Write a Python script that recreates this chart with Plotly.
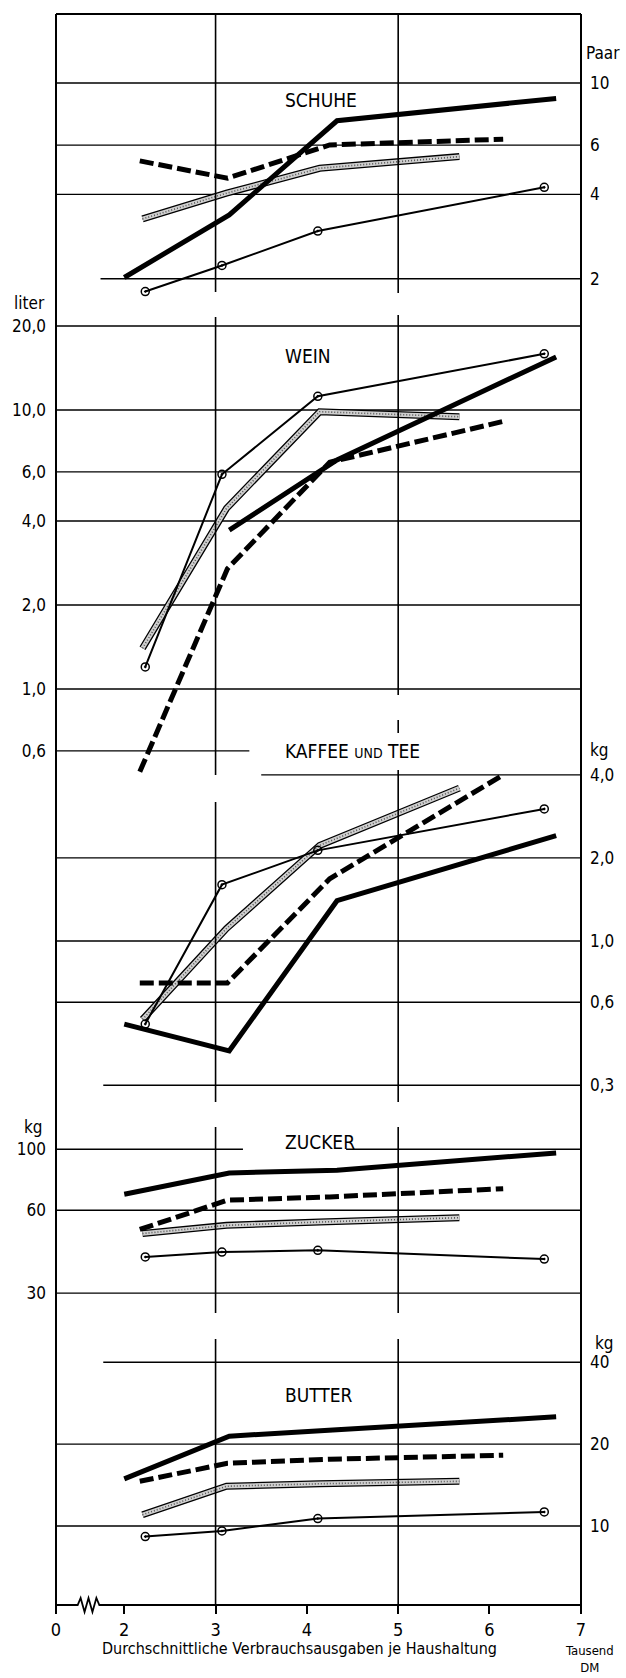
import math
import plotly.graph_objects as go

# ---------------- data ----------------
# x positions (average consumption expenditure per household, thousand DM)
X_THICK = [2.0, 3.15, 4.33, 6.73]
X_DASH = [2.17, 3.13, 4.25, 6.15]
X_HATCH = [2.2, 3.12, 4.14, 5.67]
X_CIRCLE = [2.23, 3.07, 4.12, 6.6]

X_TICKS = [2, 3, 4, 5, 6, 7]
X_TICKTEXT = ["2", "3", "4", "5", "6", "7"]

# SCHUHE (Paar)
SCHUHE_THICK = [2.02, 3.38, 7.33, 8.81]
SCHUHE_DASH = [5.27, 4.57, 6.01, 6.30]
SCHUHE_HATCH = [3.27, 4.04, 4.96, 5.46]
SCHUHE_CIRCLE = [1.80, 2.23, 2.96, 4.24]
SCHUHE_TICKS = [10, 6, 4, 2]
SCHUHE_TICKTEXT = ["10", "6", "4", "2"]

# WEIN (Liter)
WEIN_THICK = [None, 3.71, 6.62, 15.5]
WEIN_DASH = [0.505, 2.7, 6.5, 9.1]
WEIN_HATCH = [1.40, 4.44, 9.86, 9.46]
WEIN_CIRCLE = [1.20, 5.88, 11.2, 15.9]
WEIN_TICKS = [20, 10, 6, 4, 2, 1, 0.6]
WEIN_TICKTEXT = ["20,0", "10,0", "6,0", "4,0", "2,0", "1,0", "0,6"]

# KAFFEE UND TEE (kg)
KAFFEE_THICK = [0.50, 0.40, 1.40, 2.41]
KAFFEE_DASH = [0.705, 0.705, 1.68, 4.0]
KAFFEE_HATCH = [0.52, 1.11, 2.22, 3.58]
KAFFEE_CIRCLE = [0.50, 1.60, 2.13, 3.01]
KAFFEE_TICKS = [4, 2, 1, 0.6, 0.3]
KAFFEE_TICKTEXT = ["4,0", "2,0", "1,0", "0,6", "0,3"]

# ZUCKER (kg)
ZUCKER_THICK = [68.6, 82.0, 83.9, 97.0]
ZUCKER_DASH = [51.1, 65.3, 67.1, 71.9]
ZUCKER_HATCH = [49.4, 52.9, 54.4, 56.4]
ZUCKER_CIRCLE = [40.6, 42.3, 42.9, 39.9]
ZUCKER_TICKS = [100, 60, 30]
ZUCKER_TICKTEXT = ["100", "60", "30"]

# BUTTER (kg)
BUTTER_THICK = [14.9, 21.4, 22.6, 25.2]
BUTTER_DASH = [14.6, 17.0, 17.6, 18.2]
BUTTER_HATCH = [11.0, 14.0, 14.3, 14.6]
BUTTER_CIRCLE = [9.14, 9.59, 10.65, 11.26]
BUTTER_TICKS = [40, 20, 10]
BUTTER_TICKTEXT = ["40", "20", "10"]

# ---------------- layout constants (pixels) ----------------
W, H = 626, 1678
PL, PR, PT, PB = 55, 588, 14, 1605
X3_PX, UNIT_PX = 217.0, 92.7
X_LEFT = 3 - (X3_PX - PL) / UNIT_PX
X_RIGHT = 3 + (PR - X3_PX) / UNIT_PX

FONT = "Liberation Sans Narrow, DejaVu Sans Condensed, Roboto Condensed, Arial Narrow, sans-serif"


def py(p):
    return (PB - p) / (PB - PT)


def px(p):
    return (p - PL) / (PR - PL)


panels = [
    dict(name="y", top=14, bot=300, av=10, ap=83, ppd=280, side="right",
         tv=SCHUHE_TICKS, tt=SCHUHE_TICKTEXT,
         data=(SCHUHE_THICK, SCHUHE_DASH, SCHUHE_HATCH, SCHUHE_CIRCLE),
         grid=[(10, X_LEFT, 7.0), (6, X_LEFT, 7.0), (4, X_LEFT, 7.0), (2, 1.74, 7.0)]),
    dict(name="y2", top=300, bot=795, av=10, ap=410, ppd=279, side="left",
         tv=WEIN_TICKS, tt=WEIN_TICKTEXT,
         data=(WEIN_THICK, WEIN_DASH, WEIN_HATCH, WEIN_CIRCLE),
         grid=[(20, X_LEFT, 7.0), (10, X_LEFT, 7.0), (6, X_LEFT, 7.0), (4, X_LEFT, 7.0),
               (2, X_LEFT, 7.0), (1, X_LEFT, 7.0), (0.6, X_LEFT, 3.37)]),
    dict(name="y3", top=740, bot=1110, av=1, ap=941, ppd=276, side="right",
         tv=KAFFEE_TICKS, tt=KAFFEE_TICKTEXT,
         data=(KAFFEE_THICK, KAFFEE_DASH, KAFFEE_HATCH, KAFFEE_CIRCLE),
         grid=[(4, 3.50, 7.0), (2, X_LEFT, 7.0), (1, X_LEFT, 7.0), (0.6, X_LEFT, 7.0),
               (0.3, 1.77, 7.0)]),
    dict(name="y4", top=1110, bot=1320, av=100, ap=1149.3, ppd=275, side="left",
         tv=ZUCKER_TICKS, tt=ZUCKER_TICKTEXT,
         data=(ZUCKER_THICK, ZUCKER_DASH, ZUCKER_HATCH, ZUCKER_CIRCLE),
         grid=[(100, X_LEFT, 3.30), (100, 4.43, 7.0), (60, X_LEFT, 7.0), (30, X_LEFT, 7.0)]),
    dict(name="y5", top=1320, bot=1605, av=10, ap=1526, ppd=272, side="right",
         tv=BUTTER_TICKS, tt=BUTTER_TICKTEXT,
         data=(BUTTER_THICK, BUTTER_DASH, BUTTER_HATCH, BUTTER_CIRCLE),
         grid=[(40, 1.77, 7.0), (20, X_LEFT, 7.0), (10, X_LEFT, 7.0)]),
]

fig = go.Figure()
layout_axes = {}

for p in panels:
    yref = p["name"]
    thick, dash, hatch, circ = p["data"]
    # horizontal grid lines
    for val, xa, xb in p["grid"]:
        fig.add_trace(go.Scatter(x=[xa, xb], y=[val, val], mode="lines", yaxis=yref,
                                 line=dict(color="black", width=1.4), hoverinfo="skip",
                                 showlegend=False))
    # hatched band series
    fig.add_trace(go.Scatter(x=X_HATCH, y=hatch, mode="lines", yaxis=yref,
                             line=dict(color="black", width=7), showlegend=False))
    fig.add_trace(go.Scatter(x=X_HATCH, y=hatch, mode="lines", yaxis=yref,
                             line=dict(color="#cfcfcf", width=4.4), showlegend=False))
    fig.add_trace(go.Scatter(x=X_HATCH, y=hatch, mode="lines", yaxis=yref,
                             line=dict(color="#555555", width=1.6, dash="1px,2px"),
                             showlegend=False))
    # circle series
    fig.add_trace(go.Scatter(x=X_CIRCLE, y=circ, mode="lines+markers", yaxis=yref,
                             line=dict(color="black", width=2),
                             marker=dict(symbol="circle-open-dot", size=8, color="black",
                                         line=dict(width=1.5, color="black")),
                             showlegend=False))
    # dashed series
    fig.add_trace(go.Scatter(x=X_DASH, y=dash, mode="lines", yaxis=yref,
                             line=dict(color="black", width=5, dash="14px,5px"),
                             showlegend=False))
    # thick series
    fig.add_trace(go.Scatter(x=X_THICK, y=thick, mode="lines", yaxis=yref,
                             line=dict(color="black", width=5), showlegend=False,
                             connectgaps=False))

    lo = math.log10(p["av"]) - (p["bot"] - p["ap"]) / p["ppd"]
    hi = math.log10(p["av"]) + (p["ap"] - p["top"]) / p["ppd"]
    key = "yaxis" if p["name"] == "y" else "yaxis" + p["name"][1:]
    layout_axes[key] = dict(
        type="log", domain=[py(p["bot"]), py(p["top"])], range=[lo, hi],
        anchor="x", side=p["side"], tickmode="array", tickvals=p["tv"], ticktext=p["tt"],
        ticks="", showgrid=False, zeroline=False, showline=False,
        tickfont=dict(family=FONT, size=17, color="black"),
        ticklabelstandoff=8 if p["side"] == "right" else 9,
    )

shapes = []
# frame
shapes.append(dict(type="line", xref="paper", yref="paper", x0=0, x1=0, y0=py(1612), y1=py(PT),
                   line=dict(color="black", width=2)))
shapes.append(dict(type="line", xref="paper", yref="paper", x0=1, x1=1, y0=py(1612), y1=py(PT),
                   line=dict(color="black", width=2)))
shapes.append(dict(type="line", xref="paper", yref="paper", x0=0, x1=1, y0=1, y1=1,
                   line=dict(color="black", width=2)))
# bottom axis with break symbol
zig = [(55, 1605), (77, 1605), (80, 1598), (84, 1612), (88, 1598), (92, 1612), (96, 1598),
       (99, 1605), (PR, 1605)]
path = "M " + " L ".join(f"{px(a):.5f},{py(b):.5f}" for a, b in zig)
shapes.append(dict(type="path", xref="paper", yref="paper", path=path,
                   line=dict(color="black", width=1.8)))
# vertical grid segments at x = 3 and x = 5
for xv, segs in [(3, [(14, 292), (317, 775), (802, 1102), (1127, 1313), (1339, 1605)]),
                 (5, [(14, 293), (315, 695), (720, 733), (770, 1102), (1127, 1313), (1339, 1605)])]:
    for a, b in segs:
        shapes.append(dict(type="line", xref="x", yref="paper", x0=xv, x1=xv,
                           y0=py(b), y1=py(a), line=dict(color="black", width=1.6)))

ann = []


def add_text(text, x, y, size=17, xanchor="left", yanchor="middle"):
    ann.append(dict(text=text, x=px(x), y=py(y), xref="paper", yref="paper",
                    xanchor=xanchor, yanchor=yanchor, showarrow=False,
                    font=dict(family=FONT, size=size, color="black")))


# panel titles
add_text("SCHUHE", 285, 100, size=19)
add_text("WEIN", 285, 356, size=19)
add_text("KAFFEE <span style='font-size:14px'>UND</span> TEE", 285, 751, size=19)
add_text("ZUCKER", 285, 1142, size=19)
add_text("BUTTER", 285, 1395, size=19)
# unit labels
add_text("Paar", 591, 53)
add_text("liter", 46, 303, xanchor="right")
add_text("kg", 595, 750)
add_text("kg", 44, 1127, xanchor="right")
add_text("kg", 600, 1343)
# x-axis title
add_text("Durchschnittliche Verbrauchsausgaben je Haushaltung", 100, 1648, size=16)
add_text("Tausend<br>DM", 624, 1659, size=13, xanchor="right")

fig.update_layout(
    width=W, height=H,
    margin=dict(l=PL, r=W - PR, t=PT, b=H - PB),
    paper_bgcolor="white", plot_bgcolor="rgba(0,0,0,0)",
    showlegend=False,
    xaxis=dict(domain=[0, 1], range=[X_LEFT, X_RIGHT], anchor="y5",
               tickmode="array", tickvals=[X_LEFT] + X_TICKS, ticktext=["0"] + X_TICKTEXT,
               ticks="outside", ticklen=8, tickwidth=2, tickcolor="black",
               showgrid=False, zeroline=False, showline=False,
               tickfont=dict(family=FONT, size=18, color="black")),
    shapes=shapes, annotations=ann,
    **layout_axes,
)

fig.write_html("out.html", config={"displayModeBar": False},
               post_script="document.body.style.margin='0';document.body.style.padding='0';")
